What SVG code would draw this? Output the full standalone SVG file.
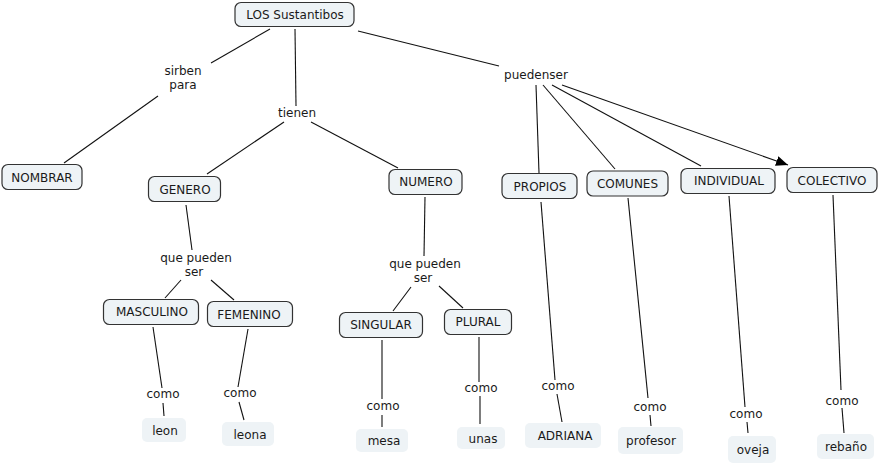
<svg xmlns="http://www.w3.org/2000/svg" width="879" height="465" viewBox="0 0 879 465">
<style>
text{font-family:"DejaVu Sans",Verdana,sans-serif;font-size:12px;fill:#1a1a1a;text-anchor:middle}
.c{fill:#eef3f6;stroke:#333;stroke-width:1.2}
.e{fill:#eef3f6;stroke:none}
.l{stroke:#111;stroke-width:1.1;fill:none}
</style>
<defs>
<marker id="ah" viewBox="0 0 12 10" refX="12" refY="5" markerWidth="12" markerHeight="10" markerUnits="userSpaceOnUse" orient="auto">
<path d="M0,0 L12,5 L0,10 z" fill="#000"/>
</marker>
</defs>
<rect width="879" height="465" fill="#fff"/>
<g id="connectors">
<line class="l" x1="270" y1="29" x2="211" y2="63"/>
<line class="l" x1="158" y1="96" x2="64" y2="163"/>
<line class="l" x1="295" y1="29" x2="296" y2="106"/>
<line class="l" x1="284" y1="122" x2="207" y2="174"/>
<line class="l" x1="311" y1="122" x2="398" y2="168"/>
<line class="l" x1="358" y1="31" x2="499" y2="66"/>
<line class="l" x1="536" y1="85" x2="539" y2="173"/>
<line class="l" x1="543" y1="85" x2="615" y2="169"/>
<line class="l" x1="552" y1="85" x2="701" y2="166"/>
<line class="l" x1="562" y1="85" x2="788" y2="165" marker-end="url(#ah)"/>
<line class="l" x1="186" y1="205" x2="192" y2="250"/>
<line class="l" x1="181" y1="280" x2="165" y2="298"/>
<line class="l" x1="211" y1="280" x2="234" y2="300"/>
<line class="l" x1="153" y1="327" x2="162" y2="388"/>
<line class="l" x1="163" y1="403" x2="164" y2="416"/>
<line class="l" x1="248" y1="329" x2="238" y2="387"/>
<line class="l" x1="239" y1="402" x2="244" y2="420"/>
<line class="l" x1="425" y1="197" x2="424" y2="256"/>
<line class="l" x1="411" y1="287" x2="393" y2="311"/>
<line class="l" x1="439" y1="286" x2="463" y2="308"/>
<line class="l" x1="382" y1="340" x2="382" y2="399"/>
<line class="l" x1="382" y1="415" x2="382" y2="427"/>
<line class="l" x1="479" y1="337" x2="479" y2="382"/>
<line class="l" x1="480" y1="396" x2="480" y2="424"/>
<line class="l" x1="541" y1="202" x2="555" y2="380"/>
<line class="l" x1="557" y1="394" x2="562" y2="422"/>
<line class="l" x1="628" y1="198" x2="648" y2="398"/>
<line class="l" x1="650" y1="415" x2="651" y2="426"/>
<line class="l" x1="729" y1="196" x2="745" y2="407"/>
<line class="l" x1="747" y1="422" x2="748" y2="433"/>
<line class="l" x1="833" y1="195" x2="841" y2="390"/>
<line class="l" x1="842" y1="408" x2="844" y2="433"/>
</g>
<g id="labels">
<text x="183" y="75">sirben</text>
<text x="183" y="89">para</text>
<text x="297" y="117">tienen</text>
<text x="536" y="79">puedenser</text>
<text x="196" y="262">que pueden</text>
<text x="194" y="276">ser</text>
<text x="425" y="268">que pueden</text>
<text x="423" y="282">ser</text>
<text x="163" y="398">como</text>
<text x="240" y="397">como</text>
<text x="383" y="410">como</text>
<text x="481" y="392">como</text>
<text x="558" y="390">como</text>
<text x="650" y="411">como</text>
<text x="746" y="418">como</text>
<text x="842" y="405">como</text>
</g>
<g id="n-los"><rect class="c" x="235" y="2.5" width="119" height="24" rx="6"/><text x="295" y="18.5">LOS Sustantibos</text></g>
<g id="n-nombrar"><rect class="c" x="2" y="164.5" width="80" height="25" rx="6"/><text x="42" y="181.5">NOMBRAR</text></g>
<g id="n-genero"><rect class="c" x="148.5" y="176.5" width="72" height="25" rx="6"/><text x="185" y="193.5">GENERO</text></g>
<g id="n-numero"><rect class="c" x="389" y="169.5" width="73" height="25" rx="6"/><text x="426" y="186">NUMERO</text></g>
<g id="n-propios"><rect class="c" x="502" y="173.5" width="75" height="25" rx="6"/><text x="540" y="190.5">PROPIOS</text></g>
<g id="n-comunes"><rect class="c" x="587" y="171" width="81" height="25" rx="6"/><text x="627.5" y="187.5">COMUNES</text></g>
<g id="n-individual"><rect class="c" x="681" y="168.5" width="94" height="25" rx="6"/><text x="729" y="185">INDIVIDUAL</text></g>
<g id="n-colectivo"><rect class="c" x="787" y="167.5" width="90" height="25" rx="6"/><text x="832" y="184.5">COLECTIVO</text></g>
<g id="n-masculino"><rect class="c" x="103.5" y="299.5" width="95" height="25" rx="6"/><text x="152" y="316">MASCULINO</text></g>
<g id="n-femenino"><rect class="c" x="207.5" y="301.5" width="85" height="25" rx="6"/><text x="249" y="318.5">FEMENINO</text></g>
<g id="n-singular"><rect class="c" x="339.5" y="312.5" width="83" height="25" rx="6"/><text x="381" y="329">SINGULAR</text></g>
<g id="n-plural"><rect class="c" x="444.5" y="309.5" width="67" height="25" rx="6"/><text x="478" y="326">PLURAL</text></g>
<g id="n-leon"><rect class="e" x="142" y="418" width="44" height="24" rx="5"/><text x="165" y="434.5">leon</text></g>
<g id="n-leona"><rect class="e" x="222" y="422" width="52" height="24" rx="5"/><text x="250" y="438.5">leona</text></g>
<g id="n-mesa"><rect class="e" x="356" y="429" width="52" height="23" rx="5"/><text x="384" y="445">mesa</text></g>
<g id="n-unas"><rect class="e" x="457" y="427" width="48" height="22" rx="5"/><text x="483" y="442.5">unas</text></g>
<g id="n-adriana"><rect class="e" x="525" y="423" width="76" height="25" rx="5"/><text x="565" y="440">ADRIANA</text></g>
<g id="n-profesor"><rect class="e" x="618" y="427" width="65" height="27" rx="5"/><text x="651" y="444.5">profesor</text></g>
<g id="n-oveja"><rect class="e" x="728" y="436" width="48" height="27" rx="5"/><text x="753" y="453.5">oveja</text></g>
<g id="n-rebano"><rect class="e" x="817" y="434" width="57" height="25" rx="5"/><text x="846" y="451">rebaño</text></g>
</svg>
